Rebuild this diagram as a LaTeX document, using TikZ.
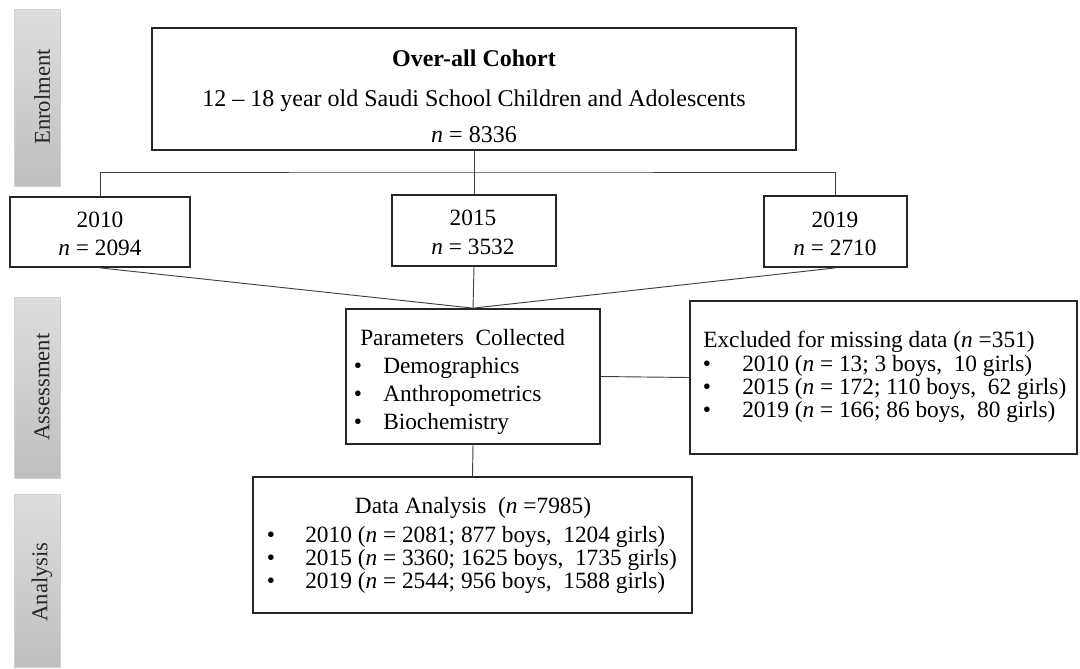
\documentclass[tikz,border=0pt]{standalone}
\usepackage{fontspec}
\setmainfont{Liberation Serif}
\usetikzlibrary{fit}
\tikzset{
  x=0.75pt, y=-0.75pt,
  box/.style={draw=black!85, line width=1.3pt, fill=white, inner sep=0pt},
  conn/.style={draw=black!75, line width=0.7pt},
  side/.style={draw=black!18, line width=0.6pt, top color=black!13, bottom color=black!25, inner sep=0pt},
  sidetxt/.style={rotate=90, font=\fontsize{17}{20}\selectfont, text=black!85, inner sep=0pt},
  txt/.style={font=\fontsize{17.5}{21}\selectfont, inner sep=0pt},
  bul/.style={font=\fontsize{17.5}{21}\selectfont, inner sep=0pt, anchor=base},
}
\begin{document}
\begin{tikzpicture}
\useasboundingbox (0,0) rectangle (1080,668);
% side bars
\node[side, fit={(14,9) (60,186)}] (enrol) {};
\node[sidetxt] (enroltxt) at (42,97) {Enrolment};
\node[side, fit={(14,297) (60,478)}] (assess) {};
\node[sidetxt] (assesstxt) at (42,387) {Assessment};
\node[side, fit={(14,494) (60,667)}] (anal) {};
\node[sidetxt] (analtxt) at (42,582) {Analysis};
% boxes
\node[box, fit={(152,28) (796,150)}] (top) {};
\node[box, fit={(10,197) (190,267)}] (ya) {};
\node[box, fit={(392,195) (556,266)}] (yb) {};
\node[box, fit={(764,196) (907,267)}] (yc) {};
\node[box, fit={(346,309) (600,444)}] (par) {};
\node[box, fit={(690,301) (1077,454)}] (exc) {};
\node[box, fit={(253,477) (692,613)}] (data) {};
% top text
\node[txt, anchor=base, font=\fontsize{18}{21}\selectfont\bfseries] (t1) at (474,66) {Over-all Cohort};
\node[txt, anchor=base, font=\fontsize{18}{21}\selectfont] (t2) at (474,106) {12 \textendash{} 18 year old Saudi School Children and Adolescents};
\node[txt, anchor=base, font=\fontsize{18}{21}\selectfont] (t3) at (474,142) {\textit{n} = 8336};
% year text
\node[txt, anchor=base] (ya1) at (100,227) {2010};
\node[txt, anchor=base] (ya2) at (100,255) {\textit{n} = 2094};
\node[txt, anchor=base] (yb1) at (473,225) {2015};
\node[txt, anchor=base] (yb2) at (473,254) {\textit{n} = 3532};
\node[txt, anchor=base] (yc1) at (835,227) {2019};
\node[txt, anchor=base] (yc2) at (835,255) {\textit{n} = 2710};
% parameters
\node[txt, anchor=base west] (p0) at (360,345) {Parameters\ \ Collected};
\node[bul] (pb1) at (358,373) {•};
\node[txt, anchor=base west] (p1) at (383,373) {Demographics};
\node[bul] (pb2) at (358,401) {•};
\node[txt, anchor=base west] (p2) at (383,401) {Anthropometrics};
\node[bul] (pb3) at (358,429) {•};
\node[txt, anchor=base west] (p3) at (383,429) {Biochemistry};
% excluded
\node[txt, anchor=base west] (e0) at (703,347) {Excluded for missing data (\textit{n} =351)};
\node[bul] (eb1) at (707,371) {•};
\node[txt, anchor=base west] (e1) at (742,371) {2010 (\textit{n} = 13; 3 boys, \ 10 girls)};
\node[bul] (eb2) at (707,394) {•};
\node[txt, anchor=base west] (e2) at (742,394) {2015 (\textit{n} = 172; 110 boys, \ 62 girls)};
\node[bul] (eb3) at (707,417) {•};
\node[txt, anchor=base west] (e3) at (742,417) {2019 (\textit{n} = 166; 86 boys, \ 80 girls)};
% data analysis
\node[txt, anchor=base] (d0) at (473,513) {Data Analysis \ (\textit{n} =7985)};
\node[bul] (db1) at (271,542) {•};
\node[txt, anchor=base west] (d1) at (305,542) {2010 (\textit{n} = 2081; 877 boys, \ 1204 girls)};
\node[bul] (db2) at (271,565) {•};
\node[txt, anchor=base west] (d2) at (305,565) {2015 (\textit{n} = 3360; 1625 boys, \ 1735 girls)};
\node[bul] (db3) at (271,588) {•};
\node[txt, anchor=base west] (d3) at (305,588) {2019 (\textit{n} = 2544; 956 boys, \ 1588 girls)};
% connectors
\coordinate (bus) at (474,172);
\draw[conn] (top.south) -- (bus);
\draw[conn] (ya.north) |- (bus) -| (yc.north);
\draw[conn] (bus) -- (yb.north);
\draw[conn] (ya.south) -- (par.north);
\draw[conn] (yb.south) -- (par.north);
\draw[conn] (yc.south) -- (par.north);
\draw[conn] (par.east) -- (exc.west);
\draw[conn] (par.south) -- (data.north);
\end{tikzpicture}
\end{document}
